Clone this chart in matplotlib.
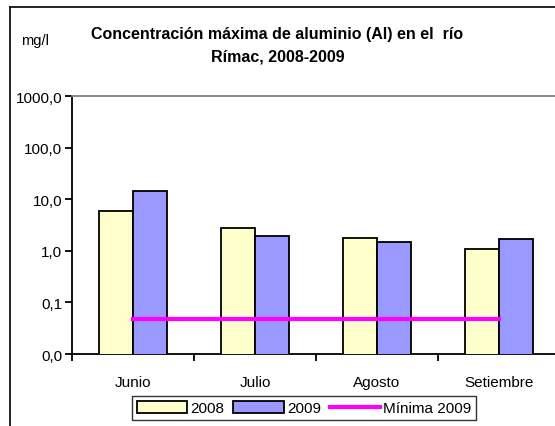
import numpy as np
import matplotlib
matplotlib.use('Agg')
import matplotlib.pyplot as plt
from matplotlib.lines import Line2D

plt.rcParams['font.family'] = ['Liberation Sans Narrow', 'Liberation Sans', 'DejaVu Sans']

# datos (mg/l)
meses = ['Junio', 'Julio', 'Agosto', 'Setiembre']
al_2008 = [5.8, 2.75, 1.8, 1.1]
al_2009 = [14.4, 1.93, 1.45, 1.7]
minima_2009 = [0.048, 0.048, 0.048, 0.048]
ytick_vals = [0.01, 0.1, 1, 10, 100, 1000]
ytick_labels = ['0,0', '0,1', '1,0', '10,0', '100,0', '1000,0']

fig = plt.figure(figsize=(5.55, 4.27), dpi=100)
ax = fig.add_axes([0.1297, 0.1686, 0.8703, 0.6042])

x = np.arange(len(meses))
w = 0.28
ax.bar(x - w / 2, al_2008, w, color='#FFFFCC', edgecolor='black', linewidth=1.3, label='2008', zorder=3)
ax.bar(x + w / 2, al_2009, w, color='#9999FF', edgecolor='black', linewidth=1.3, label='2009', zorder=3)
ax.plot(x, minima_2009, color='#FF00FF', linewidth=3, label='Mínima 2009', zorder=4)

ax.set_yscale('log')
ax.set_ylim(0.01, 1000)
ax.set_yticks(ytick_vals)
ax.set_yticklabels(ytick_labels, fontsize=11)
ax.minorticks_off()
ax.tick_params(axis='y', direction='out', length=5, width=1.3, pad=2)

ax.set_xlim(-0.5, 3.46)
ax.set_xticks([-0.5, 0.5, 1.5, 2.5])
ax.set_xticklabels([])
ax.set_xticks(x, minor=True)
ax.set_xticklabels(meses, minor=True, fontsize=11)
ax.tick_params(axis='x', which='major', direction='out', length=5, width=1.3)
ax.tick_params(axis='x', which='minor', length=0, pad=15)

for s in ['left', 'bottom']:
    ax.spines[s].set_linewidth(1.3)
ax.spines['top'].set_color('#808080')
ax.spines['top'].set_linewidth(1.3)
ax.spines['right'].set_visible(False)

fig.text(0.5, 0.893, 'Concentración máxima de aluminio (Al) en el  río\nRímac, 2008-2009',
         ha='center', va='center', fontsize=11.5, fontweight='bold', linespacing=1.6)
fig.text(0.063, 0.905, 'mg/l', ha='center', va='center', fontsize=10.5)

handles = [plt.Rectangle((0, 0), 1, 1, facecolor='#FFFFCC', edgecolor='black', linewidth=1.3),
           plt.Rectangle((0, 0), 1, 1, facecolor='#9999FF', edgecolor='black', linewidth=1.3),
           Line2D([0], [0], color='#FF00FF', linewidth=3)]
leg = fig.legend(handles, ['2008', '2009', 'Mínima 2009'], loc='center', bbox_to_anchor=(0.548, 0.042),
                 ncol=3, frameon=True, fancybox=False, edgecolor='black', fontsize=11,
                 handlelength=3.3, handleheight=0.8, columnspacing=0.6, handletextpad=0.2,
                 borderpad=0.3, borderaxespad=0)
leg.get_frame().set_linewidth(1.0)

# marco exterior
fig.add_artist(Line2D([0.018, 0.018], [0, 0.981], color='black', linewidth=1.2, transform=fig.transFigure))
fig.add_artist(Line2D([0.018, 1], [0.981, 0.981], color='black', linewidth=1.2, transform=fig.transFigure))

fig.savefig('out.png', dpi=100)
